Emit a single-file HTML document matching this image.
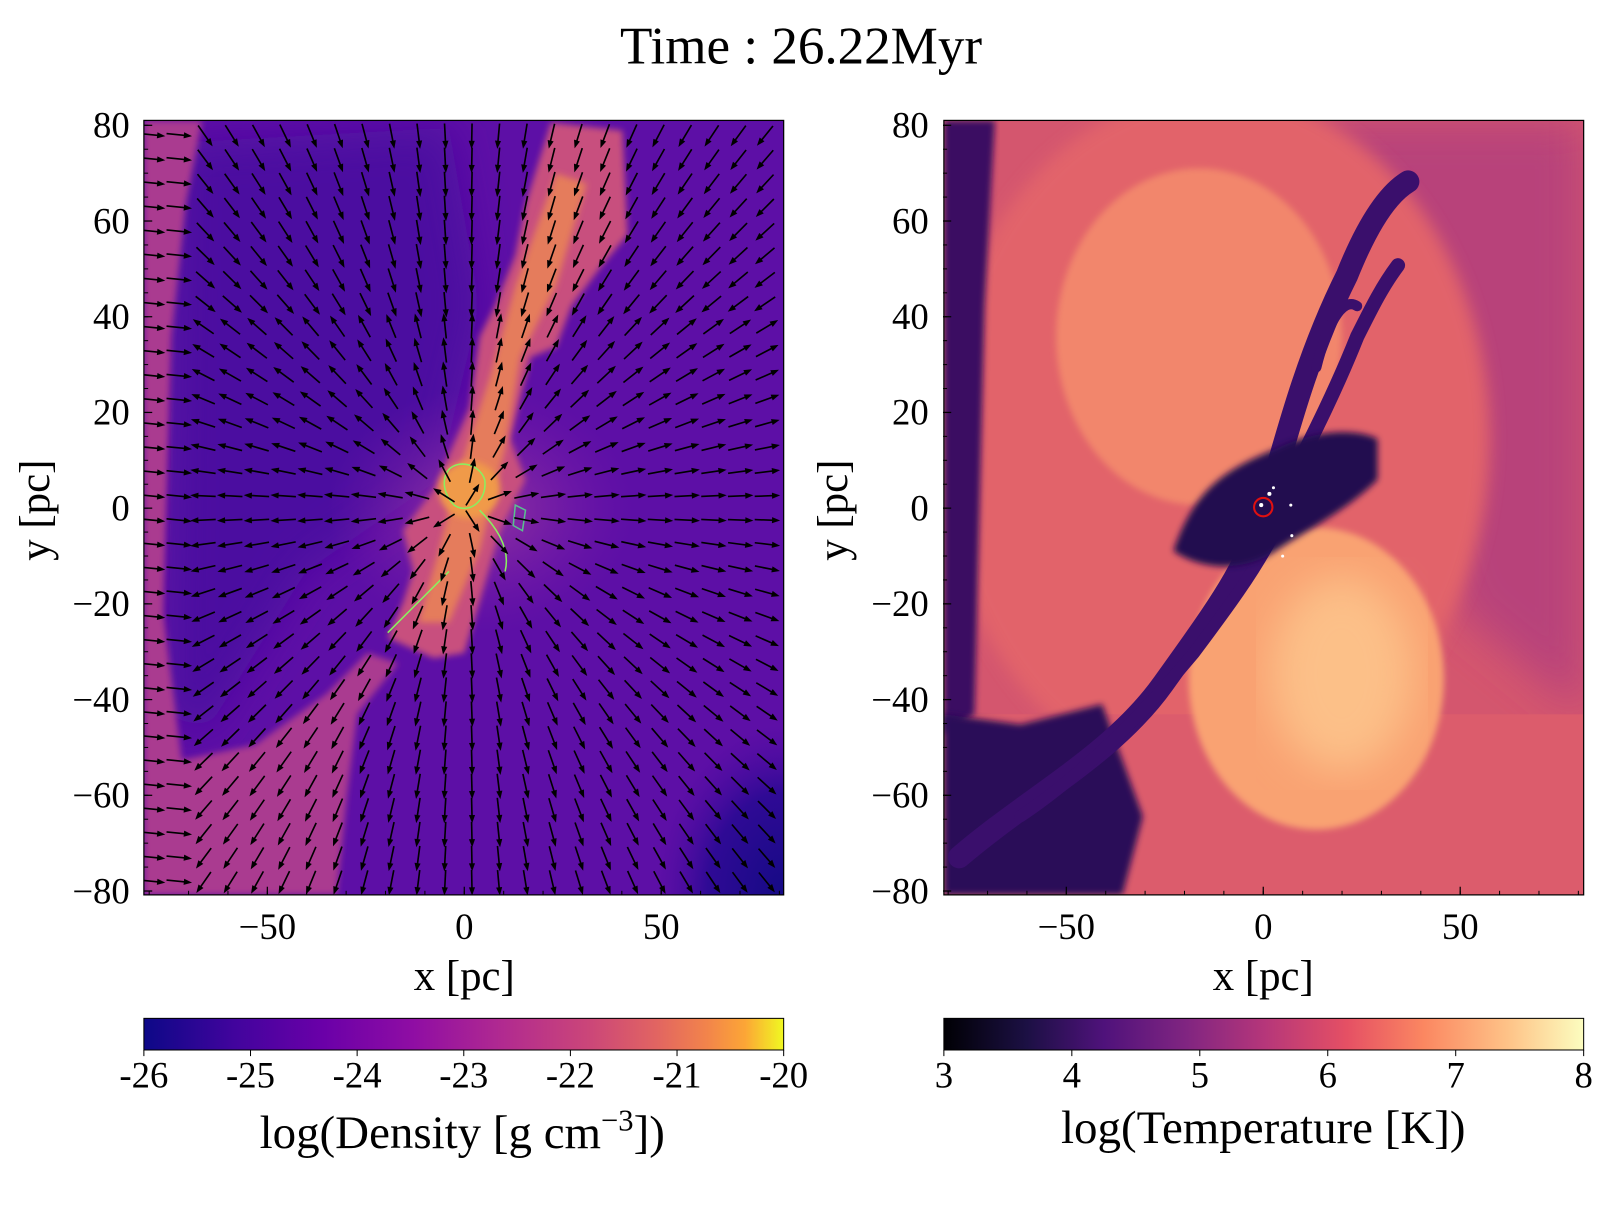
<!DOCTYPE html>
<html><head><meta charset="utf-8"><style>
html,body{margin:0;padding:0;background:#fff;}
svg text{font-family:"Liberation Serif",serif;fill:#000;}
</style></head><body>
<svg id="fig" width="1600" height="1200" viewBox="0 0 1600 1200" xmlns="http://www.w3.org/2000/svg">
<defs>
<clipPath id="cl"><rect x="141" y="118" width="627" height="759"/></clipPath>
<clipPath id="cr"><rect x="925" y="118" width="627" height="759"/></clipPath>
<filter id="b8"><feGaussianBlur stdDeviation="8"/></filter>
<filter id="b20"><feGaussianBlur stdDeviation="20"/></filter>
<filter id="b3"><feGaussianBlur stdDeviation="3"/></filter>
<linearGradient id="plasma" x1="0" x2="1" y1="0" y2="0">
<stop offset="0" stop-color="#0d0887"/><stop offset="0.14" stop-color="#41049d"/><stop offset="0.28" stop-color="#6a00a8"/><stop offset="0.42" stop-color="#8f0da4"/><stop offset="0.56" stop-color="#b12a90"/><stop offset="0.7" stop-color="#cc4778"/><stop offset="0.8" stop-color="#e16462"/><stop offset="0.88" stop-color="#f2844b"/><stop offset="0.94" stop-color="#fca636"/><stop offset="1" stop-color="#f0f921"/>
</linearGradient>
<linearGradient id="magma" x1="0" x2="1" y1="0" y2="0">
<stop offset="0" stop-color="#000004"/><stop offset="0.13" stop-color="#1c1044"/><stop offset="0.25" stop-color="#4f127b"/><stop offset="0.38" stop-color="#812581"/><stop offset="0.5" stop-color="#b5367a"/><stop offset="0.63" stop-color="#e55064"/><stop offset="0.75" stop-color="#fb8761"/><stop offset="0.88" stop-color="#fec287"/><stop offset="1" stop-color="#fcfdbf"/>
</linearGradient>
<radialGradient id="cglow" cx="0.5" cy="0.5" r="0.5"><stop offset="0" stop-color="#9a3aa0" stop-opacity="0.9"/><stop offset="1" stop-color="#7a1aa8" stop-opacity="0"/></radialGradient>
<radialGradient id="brc" cx="1" cy="1" r="0.6"><stop offset="0" stop-color="#150a85"/><stop offset="0.6" stop-color="#2f0a95"/><stop offset="1" stop-color="#4a0aa0" stop-opacity="0"/></radialGradient>
</defs>
<g transform="scale(1.0204)">
<text x="785" y="62" font-size="52" text-anchor="middle">Time : 26.22Myr</text>

<!-- LEFT PANEL -->
<g clip-path="url(#cl)">
<rect x="141" y="118" width="627" height="759" fill="#5d0fa6"/>
<path d="M170,140 L440,125 L470,300 L430,470 L300,560 L200,720 L165,700 Z" fill="#4c08a0" filter="url(#b20)"/>
<rect x="560" y="600" width="208" height="277" fill="url(#brc)"/>
<ellipse cx="470" cy="500" rx="150" ry="120" fill="url(#cglow)"/>
<path d="M141,118 L198,118 L182,200 L168,330 L160,600 L178,745 L250,730 L320,680 L360,640 L390,650 L350,700 L340,780 L330,877 L141,877 Z" fill="#aa3a90" filter="url(#b3)"/>
<path d="M540,120 L610,128 L615,230 L590,260 L560,300 L545,340 L520,350 L500,430 L515,470 L490,520 L470,590 L455,640 L425,645 L380,625 L395,590 L405,560 L395,520 L425,480 L460,400 L470,330 L485,300 L505,250 L515,200 Z" fill="#c8507e" filter="url(#b3)"/>
<path d="M545,170 L575,180 L560,230 L545,280 L510,350 L495,440 L470,540 L440,610 L410,610 L430,540 L450,460 L480,370 L505,280 Z" fill="#e57c5c" filter="url(#b3)"/>
<ellipse cx="460" cy="480" rx="30" ry="28" fill="#f09a4a" filter="url(#b3)"/>
<path d="M440,460 C450,450 470,455 475,470 C478,490 460,505 445,495 C435,485 432,470 440,460 Z M380,620 C400,600 420,580 440,560 M470,500 C490,520 500,540 495,560" fill="none" stroke="#8af060" stroke-width="1.5"/>
<path d="M505,495 L515,500 L512,520 L503,515 Z" fill="none" stroke="#5ac090" stroke-width="1.5"/>
<g id="quiver"></g>
</g>
<rect x="141" y="118" width="627" height="759" fill="none" stroke="#000" stroke-width="1.2"/>
<g id="axL"></g>
<text x="455" y="970" font-size="42" text-anchor="middle">x [pc]</text>
<text transform="translate(48,500) rotate(-90)" font-size="42" text-anchor="middle">y [pc]</text>

<!-- RIGHT PANEL -->
<g clip-path="url(#cr)">
<rect x="925" y="118" width="627" height="759" fill="#d4566e"/>
<path d="M1250,118 L1552,118 L1552,700 L1430,600 L1380,420 L1300,250 Z" fill="#b8427a" filter="url(#b20)"/>
<ellipse cx="1190" cy="430" rx="270" ry="340" fill="#e2646a" filter="url(#b8)"/>
<rect x="925" y="700" width="627" height="177" fill="#dc5c6c"/>
<ellipse cx="1175" cy="330" rx="140" ry="165" fill="#f2866c" filter="url(#b3)"/>
<ellipse cx="1290" cy="665" rx="125" ry="148" fill="#f9a272" filter="url(#b3)"/>
<ellipse cx="1315" cy="660" rx="70" ry="95" fill="#fcc088" filter="url(#b20)"/>
<path d="M925,118 L975,118 L965,300 L955,700 L925,720 Z" fill="#3a1062" filter="url(#b3)"/>
<path d="M925,700 L1000,710 L1080,690 L1120,800 L1100,877 L925,877 Z" fill="#2c0c58" filter="url(#b3)"/>
<g fill="none" stroke="#3a0f6c" stroke-linecap="round">
<path d="M940,840 C1010,780 1090,740 1140,670 C1190,600 1220,560 1240,500 C1260,430 1280,350 1320,270 C1340,220 1360,190 1380,178" stroke-width="22"/>
<path d="M1000,800 C1060,760 1120,700 1170,640 C1200,600 1230,560 1250,520" stroke-width="12"/>
<path d="M1260,480 C1290,420 1310,380 1330,330 C1345,300 1355,280 1370,260" stroke-width="14"/>
<path d="M1290,360 C1300,320 1315,290 1330,300" stroke-width="10"/>
</g>
<path d="M1150,540 C1170,480 1200,460 1250,440 C1290,420 1330,420 1350,430 L1350,470 C1320,500 1280,520 1250,540 C1220,560 1180,560 1150,540 Z" fill="#240950" filter="url(#b3)"/>
<circle cx="1238" cy="497" r="9" fill="none" stroke="#e01010" stroke-width="2"/>
<g fill="#fff"><circle cx="1236" cy="495" r="2"/><circle cx="1244" cy="484" r="2"/><circle cx="1248" cy="478" r="1.5"/><circle cx="1265" cy="495" r="1.5"/><circle cx="1266" cy="525" r="1.5"/><circle cx="1257" cy="545" r="1.5"/></g>
</g>
<rect x="925" y="118" width="627" height="759" fill="none" stroke="#000" stroke-width="1.2"/>
<g id="axR"></g>
<text x="1238" y="970" font-size="42" text-anchor="middle">x [pc]</text>
<text transform="translate(830,500) rotate(-90)" font-size="42" text-anchor="middle">y [pc]</text>

<!-- COLORBARS -->
<rect x="141" y="998" width="627" height="31" fill="url(#plasma)" stroke="#000" stroke-width="1"/>
<rect x="925" y="998" width="627" height="31" fill="url(#magma)" stroke="#000" stroke-width="1"/>
<g id="cb"></g>
<text x="453" y="1125" font-size="46" text-anchor="middle">log(Density [g cm<tspan dy="-17" font-size="30">−3</tspan><tspan dy="17">])</tspan></text>
<text x="1238" y="1120" font-size="46" text-anchor="middle">log(Temperature [K])</text>
</g>
</svg>
<script>
const NS="http://www.w3.org/2000/svg";
const xTicks=[-50,0,50];
const yTicks=[80,60,40,20,0,-20,-40,-60,-80];
const densTicks=[-26,-25,-24,-23,-22,-21,-20];
const tempTicks=[3,4,5,6,7,8];
const quiverCols=24, quiverRows=32;
function mk(tag,attrs,parent){const e=document.createElementNS(NS,tag);for(const k in attrs)e.setAttribute(k,attrs[k]);parent.appendChild(e);return e;}
const yPx=v=>498-v*4.69;
function axes(gid,x0){
  const g=document.getElementById(gid);
  const xPx=v=>x0+v*3.86;
  xTicks.forEach(t=>{
    const l=mk('line',{x1:xPx(t),x2:xPx(t),y1:877,y2:869,stroke:'#000','stroke-width':1.2},g);
    
    
    const tx=mk('text',{x:xPx(t),y:920,'font-size':36,'text-anchor':'middle'},g);
    tx.textContent=t<0?'−'+Math.abs(t):String(t);
    
    
  });
  for(let v=-80;v<=80;v+=10){mk('line',{x1:xPx(v),x2:xPx(v),y1:877,y2:873,stroke:'#000','stroke-width':1},g);}
  const left=x0-81.3*3.86;
  yTicks.forEach(t=>{
    mk('line',{x1:left,x2:left+8,y1:yPx(t),y2:yPx(t),stroke:'#000','stroke-width':1.2},g);
    const tx=mk('text',{x:left-14,y:yPx(t)+12,'font-size':36,'text-anchor':'end'},g);
    tx.textContent=t<0?'−'+Math.abs(t):String(t);
    
    
  });
  for(let v=-80;v<=80;v+=5){mk('line',{x1:left,x2:left+4,y1:yPx(v),y2:yPx(v),stroke:'#000','stroke-width':1},g);}
}
axes('axL',455);axes('axR',1238);
const cb=document.getElementById('cb');
densTicks.forEach(t=>{const x=141+(t+26)/6*627;
  mk('line',{x1:x,x2:x,y1:1029,y2:1035,stroke:'#000'},cb);
  const tx=mk('text',{x:x,y:1066,'font-size':36,'text-anchor':'middle'},cb);tx.textContent=String(t);
  
  });
tempTicks.forEach(t=>{const x=925+(t-3)/5*627;
  mk('line',{x1:x,x2:x,y1:1029,y2:1035,stroke:'#000'},cb);
  const tx=mk('text',{x:x,y:1066,'font-size':36,'text-anchor':'middle'},cb);tx.textContent=String(t);
  
  });
const q=document.getElementById('quiver');
for(let i=0;i<quiverCols;i++)for(let j=0;j<quiverRows;j++){
  const x=148+i*26.2, y=132+j*23.6;
  const dx=x-455, dy=y-498, r=Math.hypot(dx,dy)||1;
  let ux=dx/r, uy=dy/r;
  if(y<320){ux=-ux;uy=-uy;}
  if(x<200){ux=1;uy=0.1;}
  const L=22, x1=x-ux*L/2, y1=y-uy*L/2, x2=x+ux*L/2, y2=y+uy*L/2;
  const a=mk('line',{x1:x1,y1:y1,x2:x2,y2:y2,stroke:'#000','stroke-width':1.6},q);
  
  
  const px=-uy, py=ux;
  mk('polygon',{points:`${x2+ux*3},${y2+uy*3} ${x2-ux*5+px*3},${y2-uy*5+py*3} ${x2-ux*5-px*3},${y2-uy*5-py*3}`,fill:'#000'},q);
}
</script>
</body></html>
